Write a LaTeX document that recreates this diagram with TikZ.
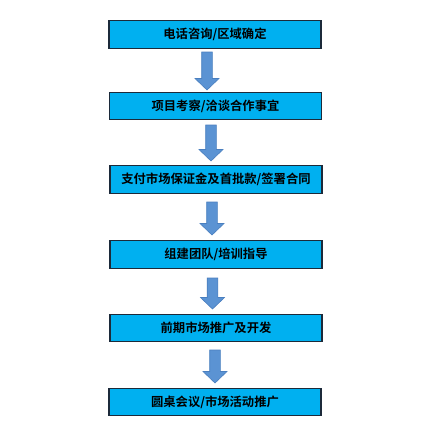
\documentclass[tikz,border=0pt]{standalone}
\usepackage{fontspec}
\newfontfamily\cjk{Noto Sans CJK SC}[BoldFont={Noto Sans CJK SC Bold}]
\definecolor{boxfill}{HTML}{00B0F0}
\definecolor{boxline}{HTML}{1C2A3A}
\definecolor{arrfill}{HTML}{5B93D3}
\definecolor{arrline}{HTML}{4A7FBF}
\tikzset{
  stepbox/.style={draw=boxline, line width=1.1pt, fill=boxfill, minimum width=212pt, minimum height=27.5pt, inner sep=0pt, font=\cjk\bfseries\fontsize{12.3pt}{14pt}\selectfont, text=black},
  blockarr/.style={draw=arrline, line width=0.6pt, fill=arrfill}
}
% #1 center x, #2 top y, #3 tip y (pixels, downward)
\newcommand\blockarrow[3]{%
  \draw[blockarr] ({#1-5.3pt},{-#2 pt}) -- ({#1+5.3pt},{-#2 pt}) -- ({#1+5.3pt},{-(#3-11.5)*1pt}) -- ({#1+12pt},{-(#3-11.5)*1pt}) -- ({#1 pt},{-#3 pt}) -- ({#1-12pt},{-(#3-11.5)*1pt}) -- ({#1-5.3pt},{-(#3-11.5)*1pt}) -- cycle;}
\begin{document}
\begin{tikzpicture}[x=1pt,y=1pt]
\useasboundingbox (0,0) rectangle (431,-447);
\fill[white] (0,0) rectangle (431,-447);
\node[stepbox] (b1) at (215,-34.5) {电话咨询/区域确定};
\node[stepbox] (b2) at (215.5,-106) {项目考察/洽谈合作事宜};
\node[stepbox] (b3) at (216,-179.5) {支付市场保证金及首批款/签署合同};
\node[stepbox] (b4) at (216,-254.5) {组建团队/培训指导};
\node[stepbox] (b5) at (216,-328) {前期市场推广及开发};
\node[stepbox] (b6) at (215,-402) {圆桌会议/市场活动推广};
\blockarrow{207}{52}{90}
\blockarrow{211}{125}{161}
\blockarrow{212}{202}{235}
\blockarrow{212.5}{278}{309}
\blockarrow{215}{350}{383}
\end{tikzpicture}
\end{document}
